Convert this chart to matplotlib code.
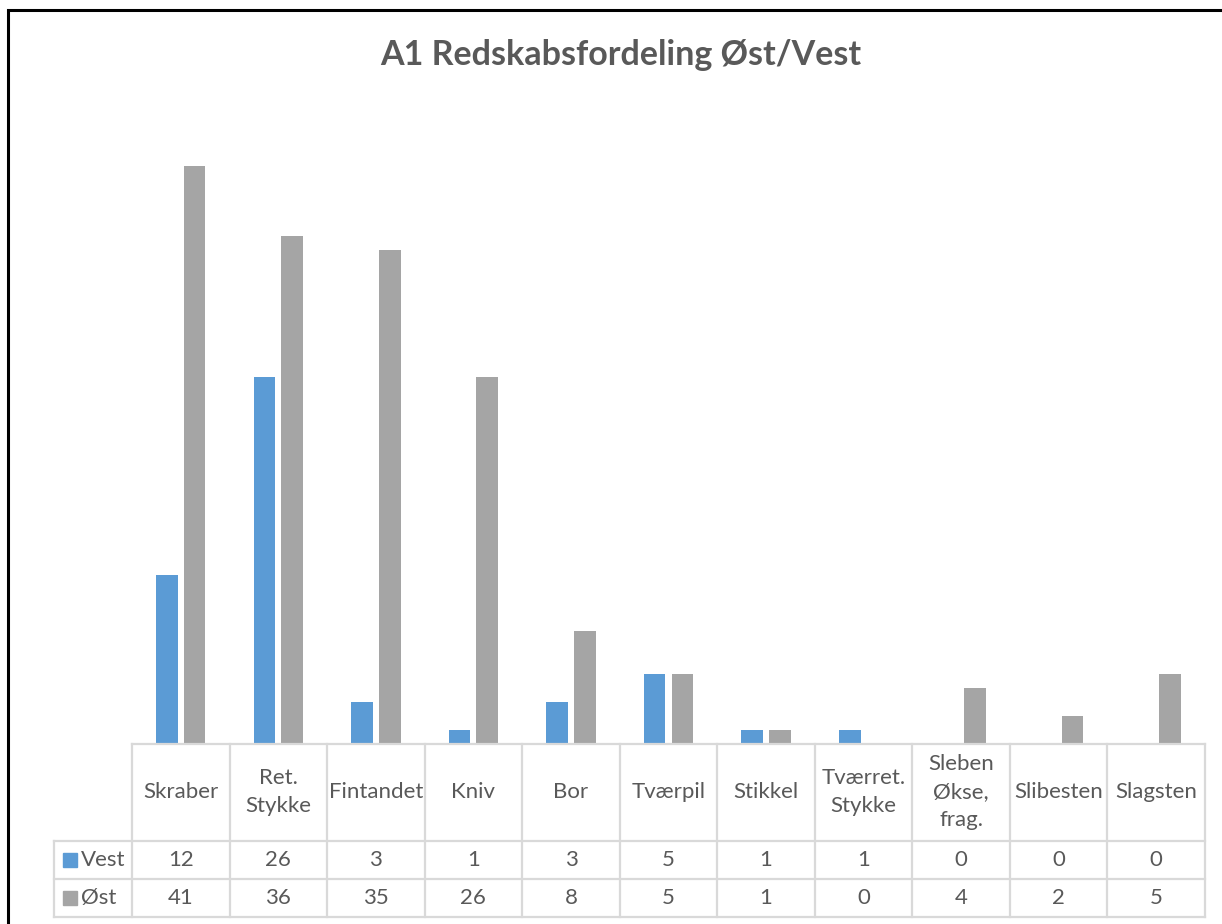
import numpy as np
import matplotlib.pyplot as plt
from matplotlib.patches import Rectangle

plt.rcParams['font.family'] = ['Lato', 'DejaVu Sans']

# data
categories = ["Skraber", "Ret.\nStykke", "Fintandet", "Kniv", "Bor", "Tværpil",
              "Stikkel", "Tværret.\nStykke", "Sleben\nØkse,\nfrag.", "Slibesten", "Slagsten"]
series_names = ["Vest", "Øst"]
vest = [12, 26, 3, 1, 3, 5, 1, 1, 0, 0, 0]
oest = [41, 36, 35, 26, 8, 5, 1, 0, 4, 2, 5]
colors = ["#5B9BD5", "#A5A5A5"]
text_col = "#595959"
grid_col = "#D9D9D9"

W, H = 1222, 924
fig = plt.figure(figsize=(W / 100, H / 100), dpi=100)

# outer chart border (runs off the right/bottom edge like the screenshot)
fig.patches.append(Rectangle((8 / W, -0.1), 1.2, (H - 10) / H + 0.1, transform=fig.transFigure,
                             fill=False, edgecolor="black", linewidth=2.2))

# pixel layout
x0, x1 = 132, 1205
base, top = 744, 109.5
ax = fig.add_axes([x0 / W, (H - base) / H, (x1 - x0) / W, (base - top) / H])
n = len(categories)
x = np.arange(n)
bw = 0.222
ax.bar(x - 0.142, vest, bw, color=colors[0])
ax.bar(x + 0.142, oest, bw, color=colors[1])
ax.set_xlim(-0.5, n - 0.5)
ax.set_ylim(0, 45)
ax.axis("off")

# data table below the plot
col_w = (x1 - x0) / n
leg_left = 54
row_tops = [744, 841, 879, 917]
tax = fig.add_axes([leg_left / W, (H - row_tops[-1]) / H, (x1 - leg_left) / W,
                    (row_tops[-1] - row_tops[0]) / H])
tax.set_xlim(-0.5 - (x0 - leg_left) / col_w, n - 0.5)
tax.set_ylim(row_tops[-1], row_tops[0])
tax.axis("off")
lkw = dict(color=grid_col, linewidth=1.6, clip_on=False)
xl = -0.5 - (x0 - leg_left) / col_w
# horizontal lines
tax.plot([-0.5, n - 0.5], [row_tops[0]] * 2, **lkw)
for yy in row_tops[1:]:
    tax.plot([xl, n - 0.5], [yy] * 2, **lkw)
# vertical lines
for i in range(n + 1):
    tax.plot([i - 0.5] * 2, [row_tops[0], row_tops[-1]], **lkw)
tax.plot([xl] * 2, [row_tops[1], row_tops[-1]], **lkw)

fs = 16
hy = (row_tops[0] + row_tops[1]) / 2
for i, c in enumerate(categories):
    tax.text(i, hy, c, ha="center", va="center", fontsize=fs, color=text_col, linespacing=1.5)
for r, (name, vals) in enumerate(zip(series_names, [vest, oest])):
    cy = (row_tops[r + 1] + row_tops[r + 2]) / 2
    for i, v in enumerate(vals):
        tax.text(i, cy, str(v), ha="center", va="center", fontsize=fs, color=text_col)
    tax.add_patch(Rectangle((xl + 9 / col_w, cy - 7), 14 / col_w, 14, color=colors[r], clip_on=False))
    tax.text(xl + 27 / col_w, cy, name, ha="left", va="center", fontsize=fs, color=text_col)

fig.text(621 / W, 1 - 55 / H, "A1 Redskabsfordeling Øst/Vest", ha="center", va="center",
         fontsize=24.5, fontweight="bold", color=text_col)

fig.savefig("out.png", dpi=100)
